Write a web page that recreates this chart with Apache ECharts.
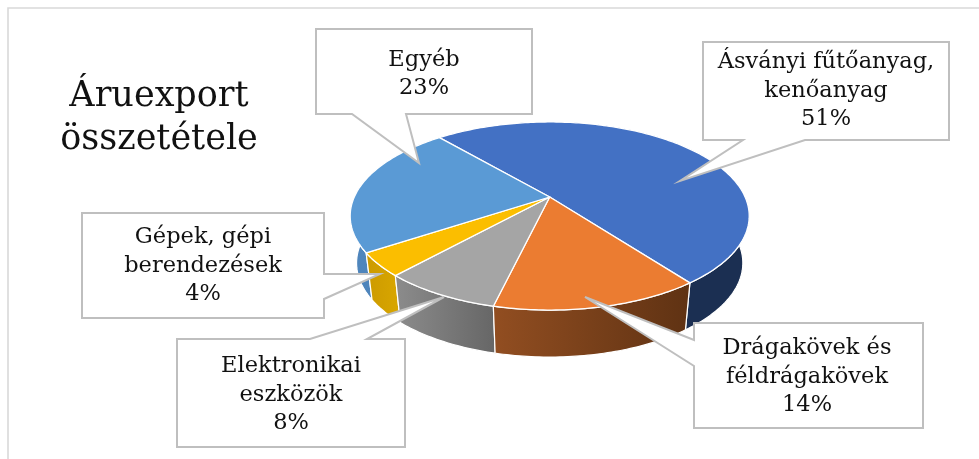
<!DOCTYPE html>
<html><head><meta charset="utf-8">
<style>html,body{margin:0;padding:0;background:#fff}#c{width:979px;height:459px}</style>
<script src="https://cdn.jsdelivr.net/npm/echarts@6/dist/echarts.min.js"></script>
</head><body><div id="c"></div>
<script>
const titleText = 'Áruexport\nösszetétele';
const categories = ['Ásványi fűtőanyag,\nkenőanyag','Drágakövek és\nféldrágakövek','Elektronikai\neszközök','Gépek, gépi\nberendezések','Egyéb'];
const values = [51,14,8,4,23];
const topColors = ['#4371C4','#EB7C31','#A5A5A5','#FBBE00','#5A9AD5'];
const sideColors = [['#1b2f52','#1b2f52'],['#924e21','#5f3213'],['#8c8c8c','#666666'],['#cc9a00','#d9a700'],['#4f86bd','#4a7fb5']];
// callout layout: box [left, top, right, bottom], wedge base, wedge tip, text centre
const callouts = [
 {box:[703,42,949,140], side:'bottom', base:[743,805], tip:[680,181], text:[826,91]},
 {box:[694,323,923,428], side:'left', base:[340,366], tip:[585,297], text:[807,377]},
 {box:[177,339,405,447], side:'top', base:[310,367], tip:[444,297], text:[291,395]},
 {box:[82,213,324,318], side:'right', base:[274,299], tip:[380,274], text:[203,266]},
 {box:[316,29,532,114], side:'bottom', base:[352,406], tip:[419,163], text:[424,74]}
];
const pie = {cx:549.7, cy:197, c:195.4, a:90.2, b:-0.202, depth:47, shrink:0.968, start:-40.6};
const FONT = '"DejaVu Serif", serif';

const total = values.reduce((s,v)=>s+v,0);
function angles(i){
  let s = 0; for(let k=0;k<i;k++) s+=values[k];
  return [pie.start + s/total*360, pie.start + (s+values[i])/total*360];
}
function project(deg, lower){
  const t = deg*Math.PI/180, u = Math.sin(t), v = -Math.cos(t), w = 1+pie.b*v;
  return lower
    ? [pie.cx + pie.shrink*pie.c*u/w, pie.cy + pie.a*v/w + pie.depth]
    : [pie.cx + pie.c*u/w, pie.cy + pie.a*v/w];
}
function arc(d0,d1,lower){
  const pts=[], n=Math.max(2,Math.ceil(Math.abs(d1-d0)));
  for(let j=0;j<=n;j++) pts.push(project(d0+(d1-d0)*j/n,lower));
  return pts;
}
function topItem(p,api){
  const i=api.value(0), [d0,d1]=angles(i);
  return {type:'polygon',shape:{points:[[pie.cx,pie.cy]].concat(arc(d0,d1,false))},
    style:{fill:topColors[i],stroke:'#fff',lineWidth:1.3,lineJoin:'round'}};
}
function sideItem(p,api){
  const i=api.value(0), [d0,d1]=angles(i);
  return {type:'polygon',shape:{points:arc(d0,d1,false).concat(arc(d1,d0,true))},
    style:{fill:{type:'linear',x:0,y:0,x2:1,y2:0,colorStops:[{offset:0,color:sideColors[i][0]},{offset:1,color:sideColors[i][1]}]},stroke:'#fff',lineWidth:1.2,lineJoin:'round'}};
}
function calloutItem(p,api){
  const i=api.value(0), k=callouts[i], [l,t,r,b]=k.box, s=k.base;
  let pts;
  if(k.side==='bottom') pts=[[l,t],[r,t],[r,b],[s[1],b],k.tip,[s[0],b],[l,b]];
  if(k.side==='top') pts=[[l,t],[s[0],t],k.tip,[s[1],t],[r,t],[r,b],[l,b]];
  if(k.side==='left') pts=[[l,t],[r,t],[r,b],[l,b],[l,s[1]],k.tip,[l,s[0]]];
  if(k.side==='right') pts=[[l,t],[r,t],[r,s[0]],k.tip,[r,s[1]],[r,b],[l,b]];
  return {type:'group',children:[
    {type:'polygon',shape:{points:pts},style:{fill:'#fff',stroke:'#bfbfbf',lineWidth:2,lineJoin:'miter'}},
    {type:'text',x:k.text[0],y:k.text[1],style:{text:categories[i]+'\n'+values[i]+'%',fill:'#111',font:'22.5px '+FONT,lineHeight:28.6,align:'center',verticalAlign:'middle'}}
  ]};
}
const order = values.map((_,i)=>[i]);
const chart = echarts.init(document.getElementById('c'),null,{renderer:'canvas'});
chart.setOption({
  animation:false,
  backgroundColor:'#fff',
  tooltip:{show:false},
  title:{text:titleText,left:154,top:70,textAlign:'center',
    textStyle:{fontFamily:FONT,fontSize:35,fontWeight:'normal',color:'#111',lineHeight:43}},
  graphic:[{type:'polyline',silent:true,shape:{points:[[8,459],[8,8],[979,8]]},style:{fill:null,stroke:'#d9d9d9',lineWidth:1.6}}],
  series:[
    {type:'custom',coordinateSystem:'none',silent:true,renderItem:sideItem,data:[4,0,3,2,1].map(i=>[i]),z:2},
    {type:'custom',coordinateSystem:'none',silent:true,renderItem:topItem,data:order,z:3},
    {type:'custom',coordinateSystem:'none',silent:true,renderItem:calloutItem,data:order,z:4}
  ]
});
</script></body></html>
